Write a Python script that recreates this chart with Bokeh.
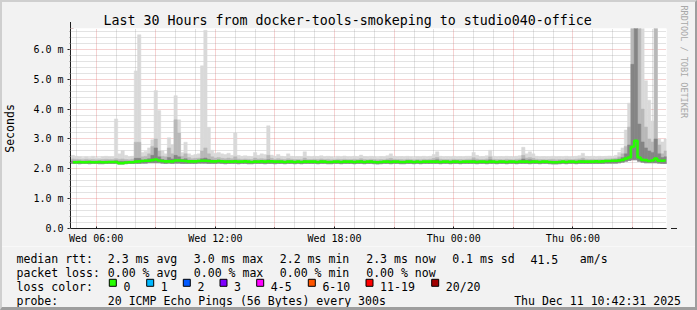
from datetime import datetime, timedelta

from bokeh.plotting import figure
from bokeh.layouts import column
from bokeh.core.properties import value
from bokeh.models import (Range1d, FixedTicker, DatetimeTickFormatter, Title,
                          Arrow, NormalHead, ColumnDataSource, InlineStyleSheet)
from bokeh.embed import file_html
from bokeh.resources import INLINE

# ---------------- data ----------------
TITLE = "Last 30 Hours from docker-tools-smokeping to studio040-office"
START = datetime(2025, 12, 10, 4, 42, 31)
END = datetime(2025, 12, 11, 10, 42, 31)
FIRST_BIN = datetime(2025, 12, 10, 4, 45)
BIN_MIN = 10

x_label_times = [datetime(2025, 12, 10, 6), datetime(2025, 12, 10, 12),
                 datetime(2025, 12, 10, 18), datetime(2025, 12, 11, 0),
                 datetime(2025, 12, 11, 6)]
y_ticks = [0, 1, 2, 3, 4, 5, 6]
y_tick_labels = ["0.0", "1.0 m", "2.0 m", "3.0 m", "4.0 m", "5.0 m", "6.0 m"]

# smoke envelopes and median (ms), one value per 10-minute bin
smoke_hi = [
    2.45, 2.42, 2.40, 2.38, 2.40, 2.38, 2.42, 2.38, 2.37, 2.40, 2.42, 2.40,
    2.40, 3.67, 2.50, 2.61, 2.45, 2.40, 2.42, 5.28, 6.49, 2.55, 2.58, 2.70,
    2.97, 4.62, 3.95, 2.60, 2.50, 3.04, 2.80, 4.45, 3.64, 2.55, 2.89, 2.50,
    2.45, 2.48, 2.50, 5.45, 6.64, 3.39, 2.62, 2.52, 2.55, 2.50, 2.48, 2.52,
    2.45, 3.20, 2.45, 2.42, 2.44, 2.42, 2.40, 2.55, 2.45, 2.50, 2.48, 3.44,
    2.46, 2.42, 2.48, 2.42, 2.40, 2.50, 2.42, 2.40, 2.41, 2.40, 2.57, 2.42,
    2.40, 2.42, 2.41, 2.44, 2.40, 2.42, 2.40, 2.38, 2.42, 2.40, 2.43, 2.40,
    2.40, 2.42, 2.40, 2.46, 2.41, 2.40, 2.42, 2.40, 2.39, 2.41, 2.40, 2.44,
    2.50, 2.42, 2.40, 2.41, 2.40, 2.42, 2.40, 2.39, 2.41, 2.40, 2.42, 2.40,
    2.42, 2.48, 2.57, 2.42, 2.40, 2.41, 2.40, 2.42, 2.40, 2.41, 2.40, 2.42,
    2.42, 2.55, 2.45, 2.40, 2.41, 2.44, 2.62, 2.42, 2.40, 2.41, 2.40, 2.42,
    2.41, 2.40, 2.42, 2.44, 2.72, 2.50, 2.57, 2.50, 2.42, 2.40, 2.41, 2.40,
    2.40, 2.42, 2.40, 2.41, 2.40, 2.42, 2.40, 2.41, 2.42, 2.44, 2.52, 2.42,
    2.41, 2.42, 2.40, 2.42, 2.41, 2.42, 2.43, 2.42, 2.45, 2.55, 2.70, 3.30,
    4.20, 6.80, 6.80, 6.80, 6.80, 4.95, 4.30, 3.60, 6.80, 3.00, 2.90, 3.00,
]
smoke_mid = [
    2.33, 2.32, 2.31, 2.30, 2.32, 2.30, 2.31, 2.30, 2.30, 2.31, 2.32, 2.31,
    2.31, 2.34, 2.32, 2.33, 2.31, 2.30, 2.32, 2.89, 2.89, 2.40, 2.42, 2.50,
    2.75, 3.00, 2.60, 2.42, 2.40, 2.70, 2.50, 3.64, 3.20, 2.42, 2.50, 2.38,
    2.34, 2.35, 2.36, 2.60, 2.70, 2.50, 2.40, 2.36, 2.38, 2.35, 2.34, 2.36,
    2.34, 2.40, 2.33, 2.32, 2.33, 2.32, 2.31, 2.36, 2.33, 2.34, 2.33, 2.45,
    2.35, 2.32, 2.34, 2.32, 2.31, 2.34, 2.32, 2.31, 2.31, 2.30, 2.36, 2.31,
    2.31, 2.32, 2.31, 2.33, 2.31, 2.32, 2.30, 2.30, 2.32, 2.31, 2.32, 2.31,
    2.31, 2.32, 2.31, 2.34, 2.31, 2.30, 2.32, 2.31, 2.30, 2.31, 2.30, 2.33,
    2.35, 2.32, 2.31, 2.31, 2.30, 2.32, 2.31, 2.30, 2.31, 2.30, 2.32, 2.31,
    2.32, 2.35, 2.38, 2.32, 2.31, 2.31, 2.30, 2.32, 2.31, 2.31, 2.30, 2.32,
    2.32, 2.37, 2.33, 2.31, 2.31, 2.33, 2.40, 2.32, 2.31, 2.31, 2.30, 2.32,
    2.31, 2.30, 2.32, 2.33, 2.45, 2.36, 2.38, 2.35, 2.32, 2.31, 2.31, 2.30,
    2.31, 2.32, 2.30, 2.31, 2.30, 2.32, 2.31, 2.31, 2.32, 2.33, 2.36, 2.32,
    2.31, 2.32, 2.31, 2.32, 2.32, 2.33, 2.33, 2.34, 2.35, 2.40, 2.50, 2.75,
    3.40, 6.80, 6.80, 6.80, 4.00, 3.40, 3.00, 2.90, 6.80, 2.80, 2.50, 2.60,
]
smoke_dark = [
    2.26, 2.26, 2.25, 2.25, 2.26, 2.25, 2.25, 2.25, 2.25, 2.25, 2.26, 2.25,
    2.25, 2.27, 2.25, 2.25, 2.25, 2.25, 2.25, 2.35, 2.35, 2.29, 2.30, 2.34,
    2.45, 2.70, 2.40, 2.31, 2.29, 2.38, 2.33, 2.45, 2.40, 2.31, 2.34, 2.29,
    2.28, 2.28, 2.29, 2.34, 2.36, 2.32, 2.29, 2.28, 2.29, 2.28, 2.27, 2.28,
    2.27, 2.29, 2.26, 2.26, 2.27, 2.26, 2.25, 2.28, 2.26, 2.27, 2.26, 2.30,
    2.27, 2.26, 2.27, 2.26, 2.25, 2.27, 2.26, 2.25, 2.26, 2.25, 2.28, 2.26,
    2.26, 2.26, 2.25, 2.27, 2.26, 2.25, 2.25, 2.25, 2.26, 2.25, 2.27, 2.26,
    2.26, 2.26, 2.26, 2.28, 2.25, 2.25, 2.27, 2.25, 2.25, 2.25, 2.25, 2.27,
    2.28, 2.26, 2.26, 2.25, 2.25, 2.27, 2.26, 2.25, 2.26, 2.25, 2.26, 2.26,
    2.26, 2.28, 2.30, 2.26, 2.26, 2.26, 2.25, 2.27, 2.26, 2.25, 2.25, 2.26,
    2.26, 2.29, 2.27, 2.26, 2.26, 2.27, 2.30, 2.26, 2.25, 2.26, 2.25, 2.26,
    2.26, 2.25, 2.26, 2.27, 2.33, 2.29, 2.30, 2.28, 2.26, 2.26, 2.26, 2.25,
    2.25, 2.26, 2.25, 2.26, 2.25, 2.26, 2.26, 2.26, 2.26, 2.27, 2.29, 2.26,
    2.26, 2.26, 2.26, 2.26, 2.27, 2.28, 2.28, 2.29, 2.30, 2.33, 2.38, 2.50,
    2.80, 5.50, 6.80, 3.50, 2.90, 2.70, 2.60, 2.55, 3.00, 2.50, 2.38, 2.40,
]
smoke_lo = [
    2.18, 2.18, 2.17, 2.18, 2.18, 2.17, 2.18, 2.18, 2.17, 2.17, 2.18, 2.18,
    2.18, 2.18, 2.16, 2.16, 2.17, 2.18, 2.18, 2.18, 2.18, 2.19, 2.19, 2.20,
    2.20, 2.20, 2.20, 2.19, 2.18, 2.19, 2.18, 2.19, 2.19, 2.18, 2.18, 2.18,
    2.18, 2.18, 2.19, 2.19, 2.19, 2.18, 2.18, 2.18, 2.19, 2.18, 2.17, 2.18,
    2.18, 2.18, 2.17, 2.18, 2.18, 2.17, 2.17, 2.18, 2.18, 2.18, 2.17, 2.18,
    2.18, 2.17, 2.18, 2.18, 2.17, 2.18, 2.18, 2.17, 2.18, 2.17, 2.18, 2.18,
    2.18, 2.18, 2.17, 2.18, 2.18, 2.17, 2.17, 2.18, 2.18, 2.17, 2.18, 2.18,
    2.18, 2.17, 2.18, 2.18, 2.17, 2.18, 2.18, 2.17, 2.16, 2.17, 2.18, 2.18,
    2.17, 2.18, 2.18, 2.17, 2.17, 2.18, 2.18, 2.17, 2.18, 2.17, 2.18, 2.18,
    2.18, 2.18, 2.18, 2.17, 2.18, 2.18, 2.17, 2.18, 2.18, 2.17, 2.18, 2.18,
    2.18, 2.18, 2.17, 2.18, 2.18, 2.17, 2.18, 2.18, 2.17, 2.18, 2.18, 2.17,
    2.18, 2.18, 2.17, 2.18, 2.18, 2.18, 2.17, 2.18, 2.18, 2.17, 2.18, 2.18,
    2.17, 2.16, 2.16, 2.17, 2.18, 2.17, 2.18, 2.18, 2.17, 2.18, 2.18, 2.18,
    2.18, 2.18, 2.18, 2.18, 2.18, 2.19, 2.19, 2.19, 2.19, 2.20, 2.22, 2.25,
    2.28, 2.30, 2.30, 2.25, 2.22, 2.20, 2.20, 2.20, 2.20, 2.19, 2.18, 2.18,
]
median_rtt = [
    2.22, 2.22, 2.23, 2.22, 2.22, 2.23, 2.22, 2.22, 2.23, 2.22, 2.22, 2.23,
    2.23, 2.23, 2.19, 2.19, 2.21, 2.22, 2.22, 2.24, 2.25, 2.26, 2.27, 2.27,
    2.29, 2.31, 2.28, 2.26, 2.25, 2.25, 2.25, 2.28, 2.28, 2.27, 2.26, 2.25,
    2.25, 2.25, 2.26, 2.27, 2.27, 2.26, 2.25, 2.25, 2.26, 2.25, 2.24, 2.24,
    2.24, 2.25, 2.24, 2.24, 2.25, 2.24, 2.23, 2.24, 2.24, 2.25, 2.24, 2.25,
    2.25, 2.24, 2.24, 2.24, 2.23, 2.24, 2.24, 2.23, 2.24, 2.23, 2.24, 2.24,
    2.24, 2.24, 2.23, 2.24, 2.24, 2.23, 2.23, 2.24, 2.24, 2.23, 2.24, 2.24,
    2.24, 2.23, 2.24, 2.24, 2.23, 2.24, 2.24, 2.23, 2.22, 2.23, 2.24, 2.24,
    2.23, 2.24, 2.24, 2.23, 2.23, 2.24, 2.24, 2.23, 2.24, 2.23, 2.24, 2.24,
    2.24, 2.24, 2.24, 2.23, 2.24, 2.24, 2.23, 2.24, 2.24, 2.23, 2.24, 2.24,
    2.24, 2.24, 2.23, 2.24, 2.24, 2.23, 2.24, 2.24, 2.23, 2.24, 2.24, 2.23,
    2.24, 2.24, 2.23, 2.24, 2.24, 2.24, 2.23, 2.24, 2.24, 2.23, 2.24, 2.24,
    2.23, 2.22, 2.22, 2.23, 2.24, 2.23, 2.24, 2.24, 2.23, 2.24, 2.24, 2.24,
    2.24, 2.24, 2.25, 2.24, 2.25, 2.26, 2.26, 2.27, 2.27, 2.28, 2.30, 2.34,
    2.38, 2.74, 2.94, 2.38, 2.30, 2.29, 2.26, 2.28, 2.34, 2.27, 2.27, 2.28,
]

stats_row1 = ["median rtt:", "2.3 ms avg", "3.0 ms max", "2.2 ms min",
              "2.3 ms now", "0.1 ms sd", "41.5", "am/s"]
stats_row2 = ["packet loss:", "0.00 % avg", "0.00 % max", "0.00 % min", "0.00 % now"]
loss_title = "loss color:"
loss_labels = ["0", "1", "2", "3", "4-5", "6-10", "11-19", "20/20"]
loss_colors = ["#26ff00", "#00b8ff", "#0059ff", "#7e00ff", "#ff00ff",
               "#ff5500", "#ff0000", "#a00000"]
probe_row = ["probe:", "20 ICMP Echo Pings (56 Bytes) every 300s"]
stamp = "Thu Dec 11 10:42:31 2025"
watermark = "RRDTOOL / TOBI OETIKER"
y_label = "Seconds"

# ---------------- layout / style ----------------
W, H = 697, 310
MAIN_H = 246
FRAME_L, FRAME_R, FRAME_T, FRAME_B = 67, 666, 28, 228
FONT = "DejaVu Sans Mono"
LEG = "11.56px"
BACK = "#F2F2F2"
GRID = "#8F8F8F"
MGRID = "#DE4F4F"
ARROW = "#801F1F"
AXIS = "#1F1F1F"

EPOCH = datetime(1970, 1, 1)


def ms(dt):
    return (dt - EPOCH).total_seconds() * 1000.0


n = len(median_rtt)
b_left = [ms(FIRST_BIN + timedelta(minutes=BIN_MIN * i)) for i in range(n)]
b_right = [v + BIN_MIN * 60000.0 for v in b_left]
b_mid = [v + BIN_MIN * 30000.0 for v in b_left]

src = ColumnDataSource(dict(left=b_left, right=b_right, mid=b_mid, lo=smoke_lo,
                            dark=smoke_dark, mmid=smoke_mid, hi=smoke_hi,
                            med=median_rtt))

p = figure(width=W, height=MAIN_H, output_backend="svg", toolbar_location=None,
           x_axis_type="datetime",
           x_range=Range1d(ms(START), ms(END)), y_range=Range1d(0, 6.7),
           min_border_left=FRAME_L, min_border_right=W - FRAME_R,
           min_border_top=FRAME_T, min_border_bottom=MAIN_H - FRAME_B,
           background_fill_color="#FFFFFF", border_fill_color=BACK,
           outline_line_color=None, title=TITLE, frame_align=False)
p.title.text_font = FONT
p.title.text_font_size = "13.3px"
p.title.text_font_style = "normal"
p.title.text_color = "#000000"
p.title.align = "left"
p.title.offset = 100 - FRAME_L
p.title.standoff = 1

# spacer panel that pushes the watermark towards the right edge
p.add_layout(Title(text=" ", text_font=FONT, text_font_size="7px", standoff=0,
                   text_color=BACK), "right")
p.add_layout(Title(text=watermark, text_font=FONT, text_font_size="8.5px",
                   text_font_style="normal", text_color="#A8A8A8",
                   align="left", vertical_align="top", offset=5 - FRAME_T,
                   standoff=0), "right")

# hours for grid
hour0 = datetime(2025, 12, 10, 5)
hours = [hour0 + timedelta(hours=h) for h in range(30)]
x_major = [ms(t) for t in hours if t.hour % 3 == 0]
x_minor = [ms(t) for t in hours if t.hour % 3 != 0]

p.xgrid.ticker = FixedTicker(ticks=x_major, minor_ticks=x_minor)
p.ygrid.ticker = FixedTicker(ticks=y_ticks[1:],
                             minor_ticks=[k / 5 for k in range(1, 34) if k % 5 != 0])
for g in (p.xgrid[0], p.ygrid[0]):
    g.grid_line_color = MGRID
    g.grid_line_alpha = 0.5
    g.grid_line_dash = "1 1"
    g.minor_grid_line_color = GRID
    g.minor_grid_line_alpha = 0.5
    g.minor_grid_line_dash = "1 1"

xa = p.xaxis[0]
xa.ticker = FixedTicker(ticks=[ms(t) for t in x_label_times], minor_ticks=x_major)
fmt = "%a %H:%M"
xa.formatter = DatetimeTickFormatter(microseconds=fmt, milliseconds=fmt, seconds=fmt,
                                     minsec=fmt, minutes=fmt, hourmin=fmt, hours=fmt,
                                     days=fmt, months=fmt, years=fmt)
xa.axis_line_color = AXIS
xa.major_tick_line_color = AXIS
xa.major_tick_in = 2
xa.major_tick_out = 0
xa.minor_tick_line_color = AXIS
xa.minor_tick_in = 1
xa.minor_tick_out = 0
xa.major_label_standoff = 4
xa.major_label_text_font = FONT
xa.major_label_text_font_size = "10px"
xa.major_label_text_color = "#000000"

ya = p.yaxis[0]
ya.ticker = FixedTicker(ticks=y_ticks, minor_ticks=[k / 5 for k in range(0, 34)])
ya.major_label_overrides = {float(t): s for t, s in zip(y_ticks, y_tick_labels)}
ya.axis_line_color = AXIS
ya.major_tick_line_color = AXIS
ya.major_tick_in = 0
ya.major_tick_out = 3
ya.minor_tick_line_color = GRID
ya.minor_tick_in = 0
ya.minor_tick_out = 1
ya.major_label_standoff = 4
ya.major_label_text_font = FONT
ya.major_label_text_font_size = "10px"
ya.major_label_text_color = "#000000"
ya.axis_label = y_label
ya.axis_label_text_font = FONT
ya.axis_label_text_font_size = LEG
ya.axis_label_text_font_style = "normal"
ya.axis_label_text_color = "#000000"
ya.axis_label_standoff = 13

# smoke
p.quad(left="left", right="right", bottom="lo", top="hi", source=src,
       fill_color="#D9D9D9", line_color="#D9D9D9", line_width=0.5)
p.quad(left="left", right="right", bottom="lo", top="mmid", source=src,
       fill_color="#B8B8B8", line_color="#B8B8B8", line_width=0.5)
p.quad(left="left", right="right", bottom="lo", top="dark", source=src,
       fill_color="#858585", line_color="#858585", line_width=0.5)
# median
p.step(x="mid", y="med", source=src, mode="center", line_color="#26ff00",
       line_width=2.6)

# axis arrows
p.add_layout(Arrow(x_start=0, y_start=190, x_end=0, y_end=FRAME_B - 21.5,
                   start_units="screen", end_units="screen",
                   line_color=AXIS, line_width=1,
                   end=NormalHead(size=6, fill_color=ARROW, line_color=ARROW)))
p.add_layout(Arrow(x_start=580, y_start=0, x_end=673.5 - FRAME_L, y_end=0,
                   start_units="screen", end_units="screen",
                   line_color=AXIS, line_width=1,
                   end=NormalHead(size=6, fill_color=ARROW, line_color=ARROW)))

# ---------------- legend block (canvas-pixel layout) ----------------
q = figure(width=W, height=H - MAIN_H, output_backend="svg", toolbar_location=None,
           x_range=Range1d(0, W), y_range=Range1d(H, MAIN_H),
           min_border=0, min_border_left=0, min_border_right=0,
           min_border_top=0, min_border_bottom=0,
           x_axis_location=None, y_axis_location=None,
           background_fill_color=BACK, border_fill_color=BACK,
           outline_line_color=None, frame_align=False)
q.xgrid.visible = False
q.ygrid.visible = False

col_x = [16, 107.3, 193.3, 279.3, 365.7, 451.7, 530, 579.3]
row_y = [258.5, 272.4, 286.3, 300.2]
sq_x = [108.3, 145.7, 182.3, 219, 255.7, 307.3, 365, 430.7]

txt_x, txt_y, txt_s = [], [], []
for s, x in zip(stats_row1, col_x):
    txt_x.append(x); txt_y.append(row_y[0]); txt_s.append(s)
for s, x in zip(stats_row2, col_x):
    txt_x.append(x); txt_y.append(row_y[1]); txt_s.append(s)
txt_x.append(col_x[0]); txt_y.append(row_y[2]); txt_s.append(loss_title)
for s, x in zip(loss_labels, sq_x):
    txt_x.append(x + 14.6); txt_y.append(row_y[2]); txt_s.append(s)
txt_x += [col_x[0], col_x[1]]; txt_y += [row_y[3], row_y[3]]; txt_s += probe_row

q.text(x=txt_x, y=txt_y, text=txt_s, text_font=value(FONT), text_font_size=value(LEG),
       text_align="left", text_baseline="alphabetic", text_color="#000000")
q.text(x=[680.5], y=[row_y[3]], text=[stamp], text_font=value(FONT),
       text_font_size=value(LEG), text_align="right", text_baseline="alphabetic",
       text_color="#000000")
q.quad(left=[x + 0.5 for x in sq_x], right=[x + 7.5 for x in sq_x],
       top=[278.8] * len(sq_x), bottom=[285.8] * len(sq_x),
       fill_color=loss_colors, line_color="#000000", line_width=1)

frame_css = InlineStyleSheet(css="""
:host { position: relative; }
:host::after { content: ""; position: absolute; left: 0; top: 0;
  width: 697px; height: 310px; box-sizing: border-box; border-style: solid;
  border-width: 2px 2px 3px 2px;
  border-color: #CFCFCF #9E9E9E #9E9E9E #CFCFCF;
  pointer-events: none; z-index: 10; }
""")
layout = column(p, q, spacing=0, stylesheets=[frame_css])

open("out.html", "w").write(file_html(layout, INLINE))
